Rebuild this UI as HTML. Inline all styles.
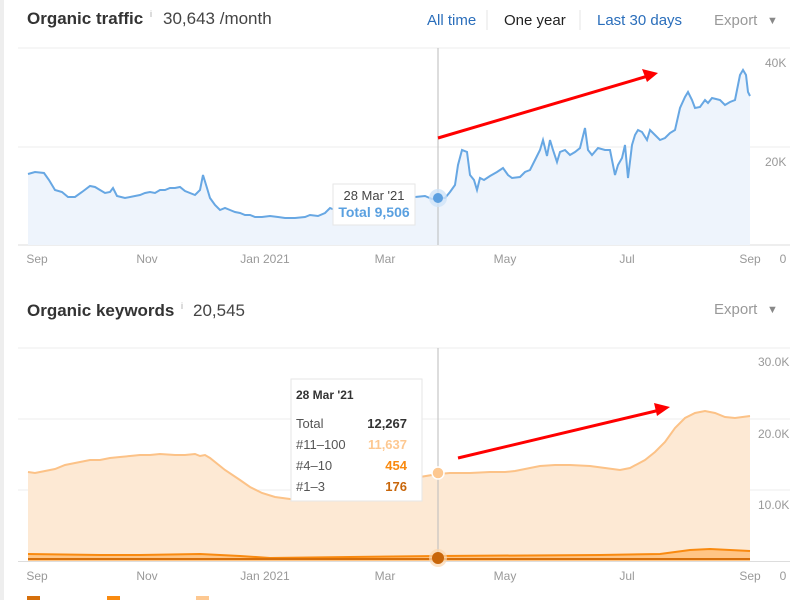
<!DOCTYPE html>
<html><head><meta charset="utf-8"><style>
body{margin:0;width:800px;height:600px;overflow:hidden;background:#fff;font-family:"Liberation Sans",sans-serif;}
</style></head><body>
<svg width="800" height="600" viewBox="0 0 800 600" xmlns="http://www.w3.org/2000/svg" font-family="Liberation Sans, sans-serif">
<rect x="0" y="0" width="4" height="600" fill="#eeeeee"/>
<!-- header top -->
<text x="27" y="24" font-size="17" font-weight="bold" fill="#333">Organic traffic</text>
<text x="150" y="17" font-size="9" fill="#aaa">i</text>
<text x="163" y="24" font-size="17" fill="#444">30,643 /month</text>
<text x="427" y="25" font-size="15" fill="#2a6ebb">All time</text>
<line x1="487" y1="10" x2="487" y2="30" stroke="#e6e6e6"/>
<text x="504" y="25" font-size="15" fill="#222">One year</text>
<line x1="580" y1="10" x2="580" y2="30" stroke="#e6e6e6"/>
<text x="597" y="25" font-size="15" fill="#2a6ebb">Last 30 days</text>
<text x="714" y="25" font-size="15" fill="#999">Export</text>
<text x="767" y="24" font-size="11" fill="#888">▼</text>
<!-- top grid -->
<line x1="18" y1="48" x2="790" y2="48" stroke="#eee"/>
<line x1="18" y1="147" x2="790" y2="147" stroke="#eee"/>
<line x1="18" y1="245" x2="790" y2="245" stroke="#ddd"/>
<text x="765" y="67" font-size="12" fill="#999">40K</text>
<text x="765" y="166" font-size="12" fill="#999">20K</text>
<g fill="#999" font-size="12" text-anchor="middle">
<text x="37" y="263">Sep</text><text x="147" y="263">Nov</text><text x="265" y="263">Jan 2021</text><text x="385" y="263">Mar</text><text x="505" y="263">May</text><text x="627" y="263">Jul</text><text x="750" y="263">Sep</text><text x="783" y="263">0</text>
</g>
<path d="M28,174 L35,172 L44,173 L49,180 L55,190 L62,192 L68,197 L75,197 L82,192 L90,186 L95,187 L100,190 L105,193 L110,192 L113,188 L117,196 L125,198 L135,196 L140,195 L145,193 L150,192 L155,193 L160,190 L165,190 L170,188 L175,188 L180,187 L185,191 L195,195 L200,190 L203,175 L207,188 L210,198 L215,205 L220,210 L225,208 L230,210 L235,212 L240,213 L245,215 L250,215 L255,217 L262,217 L270,216 L278,217 L285,218 L295,218 L305,217 L310,215 L318,216 L325,213 L330,208 L335,210 L340,210 L345,212 L350,210 L355,208 L360,206 L365,205 L370,206 L375,205 L380,200 L385,199 L395,199 L405,198 L415,197 L425,196 L432,199 L438,198 L445,198 L450,192 L455,185 L458,165 L462,150 L467,152 L470,175 L474,180 L477,190 L480,178 L484,180 L490,176 L497,172 L503,168 L508,175 L512,178 L520,177 L525,172 L530,170 L535,160 L540,150 L543,140 L547,156 L550,140 L553,150 L557,162 L560,152 L565,150 L570,155 L575,152 L580,148 L585,128 L588,150 L592,155 L598,148 L605,150 L610,150 L612,160 L615,175 L618,165 L622,158 L625,145 L628,178 L632,145 L635,135 L638,130 L642,132 L647,140 L650,130 L655,135 L660,140 L665,138 L670,133 L675,130 L680,108 L685,97 L688,92 L692,100 L695,108 L700,107 L705,100 L708,103 L712,98 L716,99 L720,100 L725,105 L730,102 L735,100 L740,75 L743,70 L746,75 L748,92 L750,96 L750,245 L28,245 Z" fill="#eef4fc"/>
<path d="M28,174 L35,172 L44,173 L49,180 L55,190 L62,192 L68,197 L75,197 L82,192 L90,186 L95,187 L100,190 L105,193 L110,192 L113,188 L117,196 L125,198 L135,196 L140,195 L145,193 L150,192 L155,193 L160,190 L165,190 L170,188 L175,188 L180,187 L185,191 L195,195 L200,190 L203,175 L207,188 L210,198 L215,205 L220,210 L225,208 L230,210 L235,212 L240,213 L245,215 L250,215 L255,217 L262,217 L270,216 L278,217 L285,218 L295,218 L305,217 L310,215 L318,216 L325,213 L330,208 L335,210 L340,210 L345,212 L350,210 L355,208 L360,206 L365,205 L370,206 L375,205 L380,200 L385,199 L395,199 L405,198 L415,197 L425,196 L432,199 L438,198 L445,198 L450,192 L455,185 L458,165 L462,150 L467,152 L470,175 L474,180 L477,190 L480,178 L484,180 L490,176 L497,172 L503,168 L508,175 L512,178 L520,177 L525,172 L530,170 L535,160 L540,150 L543,140 L547,156 L550,140 L553,150 L557,162 L560,152 L565,150 L570,155 L575,152 L580,148 L585,128 L588,150 L592,155 L598,148 L605,150 L610,150 L612,160 L615,175 L618,165 L622,158 L625,145 L628,178 L632,145 L635,135 L638,130 L642,132 L647,140 L650,130 L655,135 L660,140 L665,138 L670,133 L675,130 L680,108 L685,97 L688,92 L692,100 L695,108 L700,107 L705,100 L708,103 L712,98 L716,99 L720,100 L725,105 L730,102 L735,100 L740,75 L743,70 L746,75 L748,92 L750,96" fill="none" stroke="#67a7e3" stroke-width="2"/>
<line x1="438" y1="48" x2="438" y2="245" stroke="#bbb"/>
<circle cx="438" cy="198" r="9" fill="#cfe3f7" opacity="0.8"/>
<circle cx="438" cy="198" r="5" fill="#5da0e0"/>
<rect x="333" y="184" width="82" height="41" fill="#fff" stroke="#e6e6e6"/>
<text x="374" y="200" font-size="13" fill="#444" text-anchor="middle">28 Mar '21</text>
<text x="374" y="217" font-size="14" font-weight="bold" fill="#5aa0e0" text-anchor="middle">Total 9,506</text>
<line x1="438" y1="138" x2="648" y2="76" stroke="#f00" stroke-width="3"/>
<polygon points="658,73 642,69 647,82" fill="#f00"/>
<!-- bottom header -->
<text x="27" y="316" font-size="17" font-weight="bold" fill="#333">Organic keywords</text>
<text x="181" y="309" font-size="9" fill="#aaa">i</text>
<text x="193" y="316" font-size="17" fill="#444">20,545</text>
<text x="714" y="314" font-size="15" fill="#999">Export</text>
<text x="767" y="313" font-size="11" fill="#888">▼</text>
<line x1="18" y1="348" x2="790" y2="348" stroke="#eee"/>
<line x1="18" y1="419" x2="790" y2="419" stroke="#eee"/>
<line x1="18" y1="490" x2="790" y2="490" stroke="#eee"/>
<text x="758" y="366" font-size="12" fill="#999">30.0K</text>
<text x="758" y="438" font-size="12" fill="#999">20.0K</text>
<text x="758" y="509" font-size="12" fill="#999">10.0K</text>
<path d="M28,472 L35,473 L45,471 L55,469 L65,465 L75,463 L90,460 L100,460 L110,458 L120,457 L130,456 L140,455 L150,455 L160,454 L175,455 L185,455 L195,454 L200,456 L205,455 L210,458 L225,470 L240,480 L250,487 L262,493 L275,497 L290,499 L300,500 L320,500 L350,497 L380,492 L420,477 L438,474 L450,473 L470,473 L490,472 L505,472 L515,471 L525,469 L540,466 L555,465 L570,465 L590,466 L605,468 L620,470 L630,468 L645,460 L655,452 L665,442 L675,428 L685,418 L695,413 L705,411 L715,413 L725,417 L735,418 L750,416 L750,561 L28,561 Z" fill="#fde9d4"/>
<path d="M28,472 L35,473 L45,471 L55,469 L65,465 L75,463 L90,460 L100,460 L110,458 L120,457 L130,456 L140,455 L150,455 L160,454 L175,455 L185,455 L195,454 L200,456 L205,455 L210,458 L225,470 L240,480 L250,487 L262,493 L275,497 L290,499 L300,500 L320,500 L350,497 L380,492 L420,477 L438,474 L450,473 L470,473 L490,472 L505,472 L515,471 L525,469 L540,466 L555,465 L570,465 L590,466 L605,468 L620,470 L630,468 L645,460 L655,452 L665,442 L675,428 L685,418 L695,413 L705,411 L715,413 L725,417 L735,418 L750,416" fill="none" stroke="#fcc287" stroke-width="2"/>
<path d="M28,554 L100,555 L140,555 L200,554 L240,556 L270,558 L350,557 L438,556 L600,555 L660,554 L690,550 L710,549 L730,550 L750,551 L750,561 L28,561 Z" fill="#ffc585"/>
<path d="M28,554 L100,555 L140,555 L200,554 L240,556 L270,558 L350,557 L438,556 L600,555 L660,554 L690,550 L710,549 L730,550 L750,551" fill="none" stroke="#f98a10" stroke-width="2"/>
<path d="M28,559 L750,559" stroke="#d66f0b" stroke-width="2"/>
<line x1="18" y1="561.5" x2="790" y2="561.5" stroke="#ddd"/>
<line x1="438" y1="348" x2="438" y2="561" stroke="#bbb"/>
<circle cx="438" cy="473" r="6" fill="#fdc891" stroke="#fff" stroke-width="1.5"/>
<circle cx="438" cy="558" r="9" fill="#fbd7b0" opacity="0.7"/>
<circle cx="438" cy="558" r="6" fill="#c8660a"/>
<rect x="291" y="379" width="131" height="122" fill="#fff" stroke="#e6e6e6"/>
<text x="296" y="399" font-size="12" font-weight="bold" fill="#333">28 Mar '21</text>
<g font-size="13" fill="#555"><text x="296" y="428">Total</text><text x="296" y="449">#11–100</text><text x="296" y="470">#4–10</text><text x="296" y="491">#1–3</text></g>
<g font-size="13" font-weight="bold" text-anchor="end"><text x="407" y="428" fill="#333">12,267</text><text x="407" y="449" fill="#fdc891">11,637</text><text x="407" y="470" fill="#f98a10">454</text><text x="407" y="491" fill="#c8660a">176</text></g>
<line x1="458" y1="458" x2="660" y2="410" stroke="#f00" stroke-width="3"/>
<polygon points="670,407 654,403 657,416" fill="#f00"/>
<g fill="#999" font-size="12" text-anchor="middle">
<text x="37" y="580">Sep</text><text x="147" y="580">Nov</text><text x="265" y="580">Jan 2021</text><text x="385" y="580">Mar</text><text x="505" y="580">May</text><text x="627" y="580">Jul</text><text x="750" y="580">Sep</text><text x="783" y="580">0</text>
</g>
<rect x="27" y="596" width="13" height="6" fill="#d66f0b"/>
<rect x="107" y="596" width="13" height="6" fill="#f98a10"/>
<rect x="196" y="596" width="13" height="6" fill="#fdc891"/>
</svg>
</body></html>
